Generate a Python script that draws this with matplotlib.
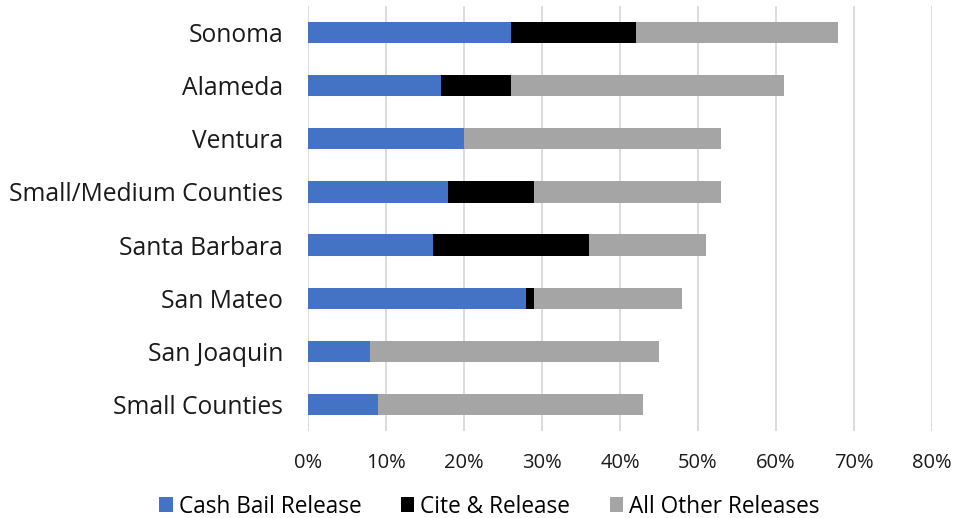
import matplotlib

matplotlib.use("Agg")
import matplotlib.pyplot as plt
from matplotlib.ticker import PercentFormatter
import numpy as np

plt.rcParams["font.family"] = ["Open Sans", "DejaVu Sans"]

counties = ["Sonoma", "Alameda", "Ventura", "Small/Medium Counties",
            "Santa Barbara", "San Mateo", "San Joaquin", "Small Counties"]
cash_bail = [26, 17, 20, 18, 16, 28, 8, 9]
cite_release = [16, 9, 0, 11, 20, 1, 0, 0]
other_releases = [26, 35, 33, 24, 15, 19, 37, 34]

series = [
    ("Cash Bail Release", cash_bail, "#4472c4"),
    ("Cite & Release", cite_release, "#000000"),
    ("All Other Releases", other_releases, "#a5a5a5"),
]

fig = plt.figure(figsize=(9.54, 5.18), dpi=100)
ax = fig.add_axes([308 / 954, 1 - 431 / 518, 624 / 954, 425 / 518])

y = np.arange(len(counties))
left = np.zeros(len(counties))
for name, vals, color in series:
    vals = np.array(vals, dtype=float)
    ax.barh(y, vals, 0.4, left=left, color=color, label=name, zorder=2)
    left += vals

ax.set_xlim(0, 80)
ax.set_ylim(len(counties) - 0.5, -0.5)
ax.set_xticks(np.arange(0, 81, 10))
ax.xaxis.set_major_formatter(PercentFormatter(decimals=0))
ax.set_yticks(y)
ax.set_yticklabels(counties, fontsize=17.7, color="#1a1a1a")
ax.tick_params(axis="x", labelsize=14.5, colors="#1a1a1a", length=0, pad=16)
ax.tick_params(axis="y", length=0, pad=18)
ax.grid(axis="x", color="#d9d9d9", lw=1.3, zorder=0)
for s in ax.spines.values():
    s.set_visible(False)

fig.legend(loc="center", bbox_to_anchor=(0.513, 0.022), ncol=3, frameon=False,
           fontsize=16.3, handlelength=0.6, handleheight=0.6, handletextpad=0.26,
           columnspacing=1.75, borderpad=0)

fig.savefig("out.png", dpi=100)
